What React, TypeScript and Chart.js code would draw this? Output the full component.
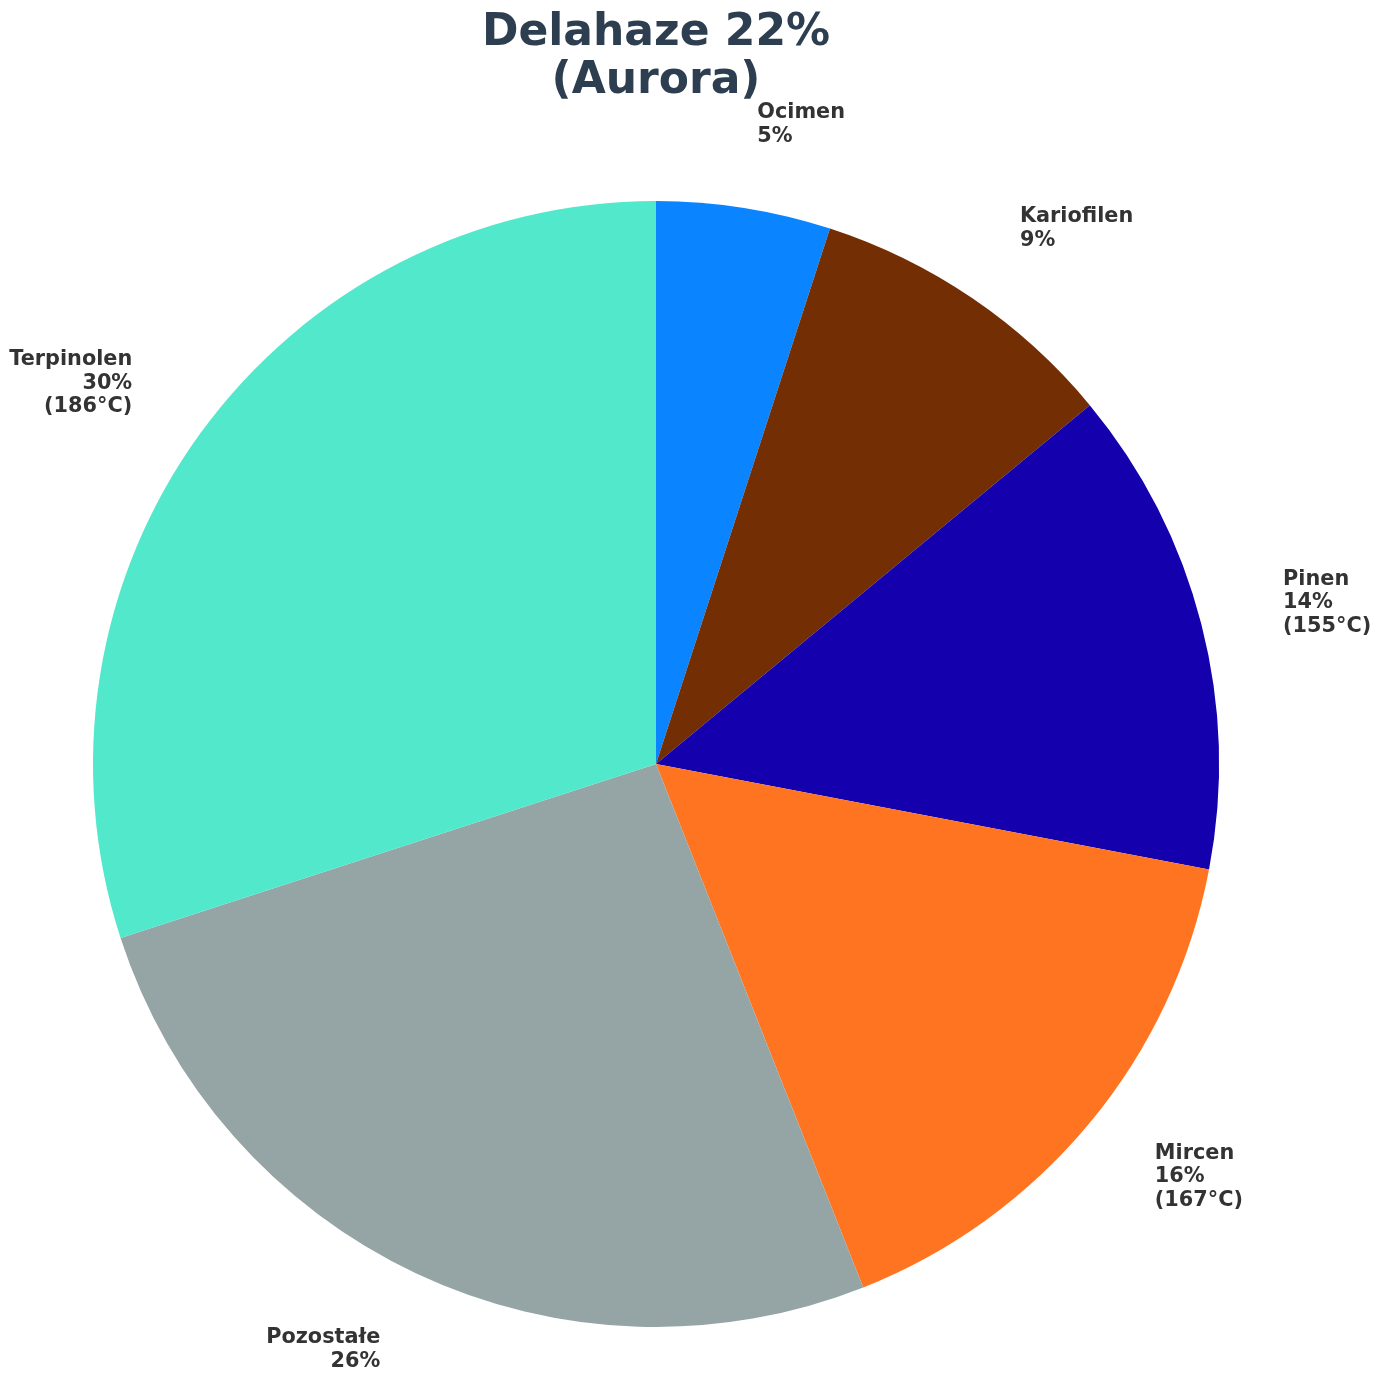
import React, { useEffect, useRef } from "react";
import { Chart, registerables } from "chart.js";

Chart.register(...registerables);

const categories = ["Ocimen", "Kariofilen", "Pinen", "Mircen", "Pozostałe", "Terpinolen"];
const values = [5, 9, 14, 16, 26, 30];
const temps = ["", "", "(155°C)", "(167°C)", "", "(186°C)"];
const colors = ["#0a84ff", "#742e03", "#1500ad", "#ff7420", "#95a5a6", "#52e8cc"];
const titleLines = ["Delahaze 22%", "(Aurora)"];

const W = 1379;
const H = 1389;

const labelPlugin = {
  id: "pieLabels",
  afterDraw(chart: any) {
    const ctx = chart.ctx;
    const meta = chart.getDatasetMeta(0);
    ctx.save();
    ctx.font = "bold 20.8px 'DejaVu Sans'";
    ctx.fillStyle = "#333333";
    ctx.textBaseline = "middle";
    const lh = 23.5;
    meta.data.forEach((arc: any, i: number) => {
      const mid = (arc.startAngle + arc.endAngle) / 2;
      const d = arc.outerRadius * 1.15;
      const x = arc.x + Math.cos(mid) * d;
      const y = arc.y + Math.sin(mid) * d;
      const lines = [categories[i], values[i] + "%"];
      if (temps[i]) lines.push(temps[i]);
      const right = Math.cos(mid) >= 0;
      ctx.textAlign = right ? "left" : "right";
      const n = lines.length;
      lines.forEach((t, k) => {
        ctx.fillText(t, x, y + (k - (n - 1) / 2) * lh);
      });
    });
    // title
    ctx.font = "bold 44px 'DejaVu Sans'";
    ctx.fillStyle = "#2c3e50";
    ctx.textAlign = "center";
    ctx.textBaseline = "alphabetic";
    ctx.fillText(titleLines[0], 656, 45);
    ctx.fillText(titleLines[1], 656, 93);
    ctx.restore();
  },
};

export default function App() {
  const ref = useRef<HTMLCanvasElement>(null);
  useEffect(() => {
    const cx = 656;
    const cy = 764;
    const r = 563;
    const chart = new Chart(ref.current!, {
      type: "pie",
      data: {
        labels: categories,
        datasets: [
          {
            data: values,
            backgroundColor: colors,
            borderWidth: 0,
          },
        ],
      },
      options: {
        animation: false,
        responsive: false,
        devicePixelRatio: 1,
        layout: {
          padding: { left: cx - r, right: W - (cx + r), top: cy - r, bottom: H - (cy + r) },
        },
        plugins: {
          legend: { display: false },
          tooltip: { enabled: false },
          title: { display: false },
        },
      },
      plugins: [labelPlugin],
    });
    return () => chart.destroy();
  }, []);
  return (
    <div style={{ position: "absolute", left: 0, top: 0, width: W, height: H, background: "#fff" }}>
      <canvas ref={ref} width={W} height={H} style={{ width: W, height: H, display: "block" }} />
    </div>
  );
}
